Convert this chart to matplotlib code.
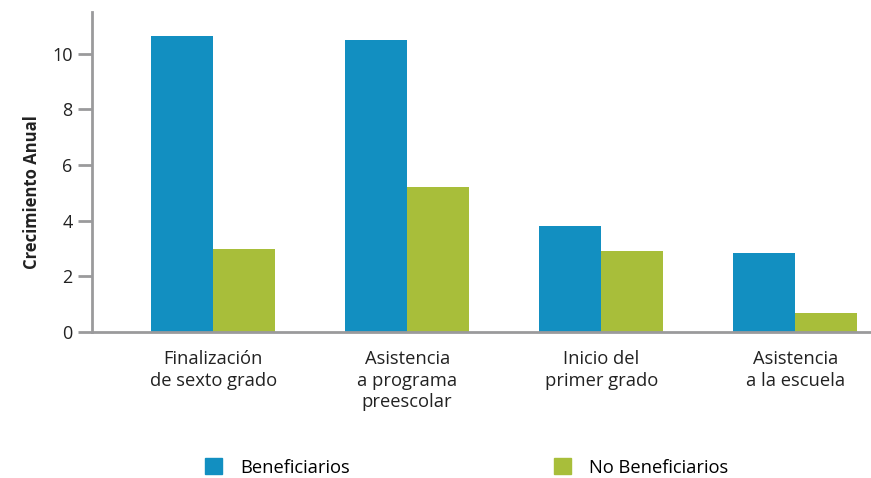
import matplotlib.pyplot as plt
import numpy as np
from matplotlib.patches import Patch

plt.rcParams['font.family'] = ['Open Sans', 'DejaVu Sans']

categorias = ["Finalización\nde sexto grado", "Asistencia\na programa\npreescolar",
              "Inicio del\nprimer grado", "Asistencia\na la escuela"]
beneficiarios = [10.65, 10.5, 3.8, 2.85]
no_beneficiarios = [3.0, 5.2, 2.9, 0.7]
series = ["Beneficiarios", "No Beneficiarios"]
colores = ["#128FC1", "#A8BE3A"]
grey = "#9a9a9c"

x = np.arange(len(categorias))
w = 0.32

fig = plt.figure(figsize=(8.71, 4.78), dpi=100)
ax = fig.add_axes([0.1056, 0.3054, 0.8944, 0.6695])

ax.bar(x - w/2, beneficiarios, w, color=colores[0])
ax.bar(x + w/2, no_beneficiarios, w, color=colores[1])

ax.set_xlim(-0.624, 3.39)
ax.set_ylim(0, 11.5)
ax.set_yticks([0, 2, 4, 6, 8, 10])
ax.set_xticks(x)
ax.set_xticklabels(categorias, fontsize=13.2, color="#222222", linespacing=1.25, va="top")
ax.tick_params(axis="x", length=0, pad=13)
ax.tick_params(axis="y", length=10, width=2, color=grey, labelsize=13, labelcolor="#222222", pad=4)

for s in ["top", "right"]:
    ax.spines[s].set_visible(False)
for s in ["left", "bottom"]:
    ax.spines[s].set_color(grey)
    ax.spines[s].set_linewidth(2)

ax.set_ylabel("Crecimiento Anual", fontsize=12, fontweight="bold", color="#222222")
ax.yaxis.set_label_coords(-0.066, 0.437)

handles = [Patch(color=c, label=l) for c, l in zip(colores, series)]
fig.legend(handles=handles, ncol=2, loc="center left", bbox_to_anchor=(0.235, 0.022),
           frameon=False, fontsize=13.2, handlelength=0.95, handleheight=0.95,
           handletextpad=1.0, columnspacing=11.1, borderaxespad=0, borderpad=0)

fig.savefig("out.png", dpi=100)
